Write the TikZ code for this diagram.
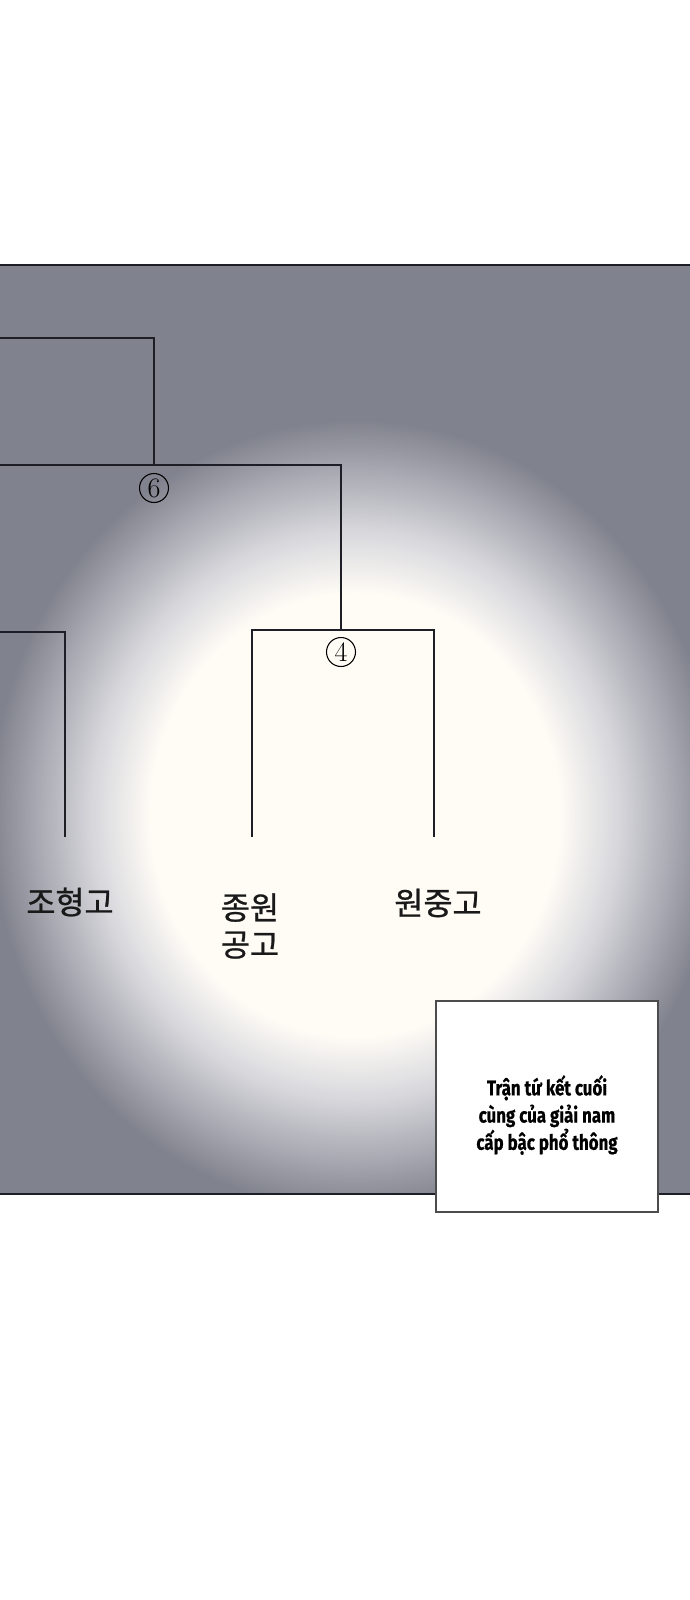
\documentclass[tikz,border=0pt]{standalone}
\usepackage{fontspec}
\newfontfamily\krfont[FakeBold=0.8]{Noto Sans CJK KR}
\newfontfamily\capfont[FakeStretch=0.8,FakeBold=0.6]{Fira Sans}
\definecolor{panelgray}{RGB}{128,130,141}
\definecolor{glowwhite}{RGB}{255,252,246}
\definecolor{glowmid}{RGB}{215,215,220}
\definecolor{linegray}{RGB}{30,31,38}
\pgfdeclareradialshading{glow}{\pgfpoint{0bp}{0bp}}{color(0bp)=(glowwhite); color(14bp)=(glowwhite); color(18bp)=(glowmid); color(25bp)=(panelgray); color(50bp)=(panelgray)}

\begin{document}
\begin{tikzpicture}[x=0.02cm,y=-0.02cm,
  bracket/.style={draw=linegray,line width=0.9pt},
  team node/.style={font=\krfont\fontsize{18}{21}\selectfont,text=black!90,align=center},
  match node/.style={circle,draw=black,line width=0.6pt,inner sep=0pt,minimum size=16.5pt,font=\fontsize{16}{16}\selectfont},
  note box/.style={draw=black!70,line width=0.9pt,fill=white},
  note text/.style={font=\capfont\bfseries\fontsize{12}{15.5}\selectfont,align=center}]
  \useasboundingbox (0,0) rectangle (690,1600);
  \fill[white] (0,0) rectangle (690,1600);
  \begin{scope}
    \clip (0,265) rectangle (690,1194);
    \fill[panelgray] (0,265) rectangle (690,1194);
    \shade[shading=glow] (355,815) ellipse (365 and 395);
  \end{scope}
  \draw[linegray,line width=1pt] (0,265) -- (690,265) (0,1194) -- (690,1194);

  \coordinate (top) at (0,338);
  \coordinate (six) at (154,465);
  \coordinate (semi) at (0,465);
  \coordinate (four) at (341,630);
  \coordinate (left) at (0,632);
  \coordinate (joh end) at (65,837);
  \coordinate (jong end) at (252,837);
  \coordinate (won end) at (434,837);

  \draw[bracket] (top) -| (six);
  \draw[bracket] (semi) -| (four);
  \draw[bracket] (left) -| (joh end);
  \draw[bracket] (jong end) |- (four) -| (won end);

  \node[match node] (m6) at (154,488) {6};
  \node[match node] (m4) at (341,652) {4};

  \node[team node] (joh) at (70,902) {조형고};
  \node[team node] (jong) at (250,926) {종원\\공고};
  \node[team node] (won) at (438,903) {원중고};

  \draw[note box] (436,1001) rectangle (658,1212);
  \node[note text] (note) at (547,1115) {Trận tứ kết cuối\\cùng của giải nam\\cấp bậc phổ thông};
\end{tikzpicture}
\end{document}
